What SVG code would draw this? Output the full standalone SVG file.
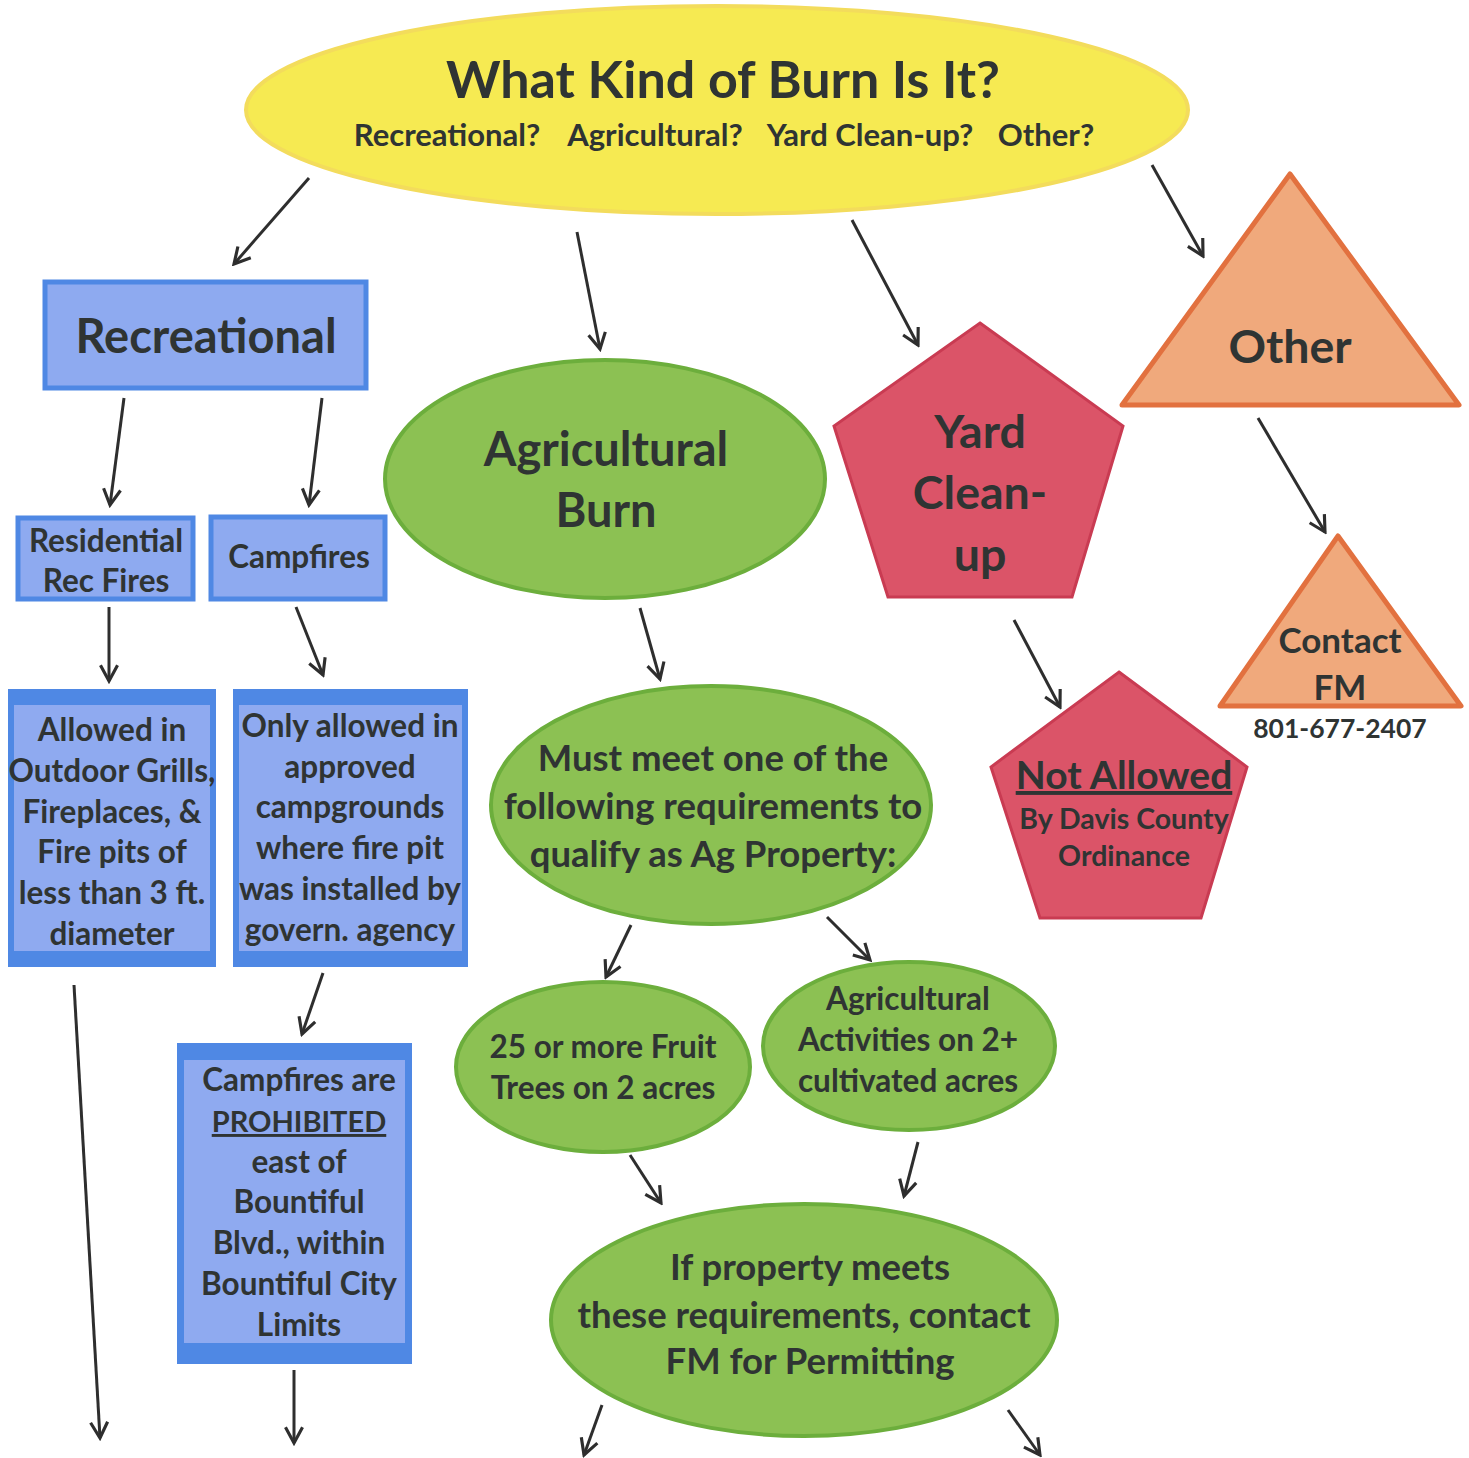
<svg xmlns="http://www.w3.org/2000/svg" width="1469" height="1458" viewBox="0 0 1469 1458">
<defs>
<marker id="ah" viewBox="0 0 16 16" refX="14" refY="8" markerWidth="21" markerHeight="21" markerUnits="userSpaceOnUse" orient="auto">
<path d="M2,1.5 L14,8 L2,14.5" fill="none" stroke="#2e2e2e" stroke-width="2.4" stroke-linejoin="miter"/>
</marker>
</defs>
<style>
text{font-family:Lato,"Open Sans","Liberation Sans",sans-serif;font-weight:bold;fill:#2f3433;text-anchor:middle}
.blue{fill:#8eaaf0;stroke:#4f88e4;stroke-width:5}
.bo{fill:#4f88e4}
.bi{fill:#8faaf0}
.green{fill:#8cc153;stroke:#6cae3c;stroke-width:4}
.red{fill:#db5468;stroke:#c93b52;stroke-width:3}
.peach{fill:#f0a97c;stroke:#e2713f;stroke-width:5;stroke-linejoin:round}
.yellow{fill:#f6ea52;stroke:#f3dc5c;stroke-width:4}
.c line{stroke:#2e2e2e;stroke-width:3;marker-end:url(#ah)}
.f44{font-size:46.5px}
.f29{font-size:31.5px}
.f33{font-size:36.5px}
.sub{font-size:31px}
</style>
<rect width="1469" height="1458" fill="#ffffff"/>

<g id="start">
<ellipse class="yellow" cx="717" cy="110" rx="471" ry="104"/>
<text x="723" y="98" style="font-size:52px">What Kind of Burn Is It?</text>
<text class="sub" x="447" y="146">Recreational?</text>
<text class="sub" x="655" y="146">Agricultural?</text>
<text class="sub" x="870" y="146">Yard Clean-up?</text>
<text class="sub" x="1046" y="146">Other?</text>
</g>

<g id="recreational">
<rect class="blue" x="45" y="282" width="321" height="106"/>
<text x="206" y="353" style="font-size:47px">Recreational</text>
</g>

<g id="residential">
<rect class="blue" x="18" y="518" width="175" height="81"/>
<text class="f29" x="106" y="552">Residential</text>
<text class="f29" x="106" y="592">Rec Fires</text>
</g>

<g id="campfires">
<rect class="blue" x="211" y="517" width="174" height="82"/>
<text class="f29" x="299" y="568">Campfires</text>
</g>

<g id="allowed">
<rect class="bo" x="8" y="689" width="208" height="278"/>
<rect class="bi" x="14" y="705" width="196" height="246"/>
<text class="f29" x="112" y="741">Allowed in</text>
<text class="f29" x="112" y="782">Outdoor Grills,</text>
<text class="f29" x="112" y="823">Fireplaces, &amp;</text>
<text class="f29" x="112" y="863">Fire pits of</text>
<text class="f29" x="112" y="904">less than 3 ft.</text>
<text class="f29" x="112" y="945">diameter</text>
</g>

<g id="only">
<rect class="bo" x="233" y="689" width="235" height="278"/>
<rect class="bi" x="239" y="705" width="223" height="246"/>
<text class="f29" x="350" y="737">Only allowed in</text>
<text class="f29" x="350" y="778">approved</text>
<text class="f29" x="350" y="818">campgrounds</text>
<text class="f29" x="350" y="859">where fire pit</text>
<text class="f29" x="350" y="900">was installed by</text>
<text class="f29" x="350" y="941">govern. agency</text>
</g>

<g id="prohibited">
<rect class="bo" x="177" y="1043" width="235" height="321"/>
<rect class="bi" x="184" y="1060" width="221" height="283"/>
<text class="f29" x="299" y="1091">Campfires are</text>
<text x="299" y="1132" style="font-size:29px" text-decoration="underline">PROHIBITED</text>
<text class="f29" x="299" y="1173">east of</text>
<text class="f29" x="299" y="1213">Bountiful</text>
<text class="f29" x="299" y="1254">Blvd., within</text>
<text class="f29" x="299" y="1295">Bountiful City</text>
<text class="f29" x="299" y="1336">Limits</text>
</g>

<g id="agburn">
<ellipse class="green" cx="605" cy="479" rx="220" ry="119"/>
<text x="606" y="466" style="font-size:47px">Agricultural</text>
<text x="606" y="527" style="font-size:47px">Burn</text>
</g>

<g id="mustmeet">
<ellipse class="green" cx="711" cy="805" rx="220" ry="119"/>
<text class="f33" x="713" y="771">Must meet one of the</text>
<text class="f33" x="713" y="819">following requirements to</text>
<text class="f33" x="713" y="867">qualify as Ag Property:</text>
</g>

<g id="fruit">
<ellipse class="green" cx="603" cy="1067" rx="147" ry="85"/>
<text class="f29" x="603" y="1058">25 or more Fruit</text>
<text class="f29" x="603" y="1099">Trees on 2 acres</text>
</g>

<g id="activities">
<ellipse class="green" cx="909" cy="1046" rx="146" ry="84"/>
<text class="f29" x="908" y="1010">Agricultural</text>
<text class="f29" x="908" y="1051">Activities on 2+</text>
<text class="f29" x="908" y="1092">cultivated acres</text>
</g>

<g id="permitting">
<ellipse class="green" cx="804" cy="1320" rx="253" ry="116"/>
<text class="f33" x="810" y="1280">If property meets</text>
<text class="f33" x="804" y="1328">these requirements, contact</text>
<text class="f33" x="810" y="1374">FM for Permitting</text>
</g>

<g id="yard">
<polygon class="red" points="980,323 1123,426 1072,597 888,597 834,426"/>
<text class="f44" x="980" y="448">Yard</text>
<text class="f44" x="980" y="509">Clean-</text>
<text class="f44" x="980" y="571">up</text>
</g>

<g id="notallowed">
<polygon class="red" points="1119,672 1247,767 1201,918 1040,918 991,767"/>
<text x="1124" y="789" style="font-size:39px" text-decoration="underline">Not Allowed</text>
<text x="1124" y="829" style="font-size:28.5px">By Davis County</text>
<text x="1124" y="866" style="font-size:28.5px">Ordinance</text>
</g>

<g id="other">
<polygon class="peach" points="1290,174 1459,405 1122,405"/>
<text class="f44" x="1290" y="363">Other</text>
</g>

<g id="contact">
<polygon class="peach" points="1338,536 1461,706 1220,706"/>
<text x="1340" y="653" style="font-size:35px">Contact</text>
<text x="1340" y="700" style="font-size:35px">FM</text>
<text x="1340" y="738" style="font-size:26.5px">801-677-2407</text>
</g>

<g id="connectors" class="c">
<line x1="309" y1="178" x2="234" y2="264"/>
<line x1="577" y1="232" x2="600" y2="349"/>
<line x1="852" y1="220" x2="918" y2="345"/>
<line x1="1152" y1="165" x2="1203" y2="256"/>
<line x1="124" y1="398" x2="110" y2="505"/>
<line x1="322" y1="398" x2="309" y2="505"/>
<line x1="109" y1="607" x2="109" y2="681"/>
<line x1="296" y1="607" x2="323" y2="675"/>
<line x1="323" y1="973" x2="302" y2="1034"/>
<line x1="74" y1="985" x2="100" y2="1438"/>
<line x1="294" y1="1370" x2="294" y2="1443"/>
<line x1="640" y1="608" x2="660" y2="679"/>
<line x1="631" y1="925" x2="606" y2="977"/>
<line x1="827" y1="917" x2="870" y2="960"/>
<line x1="630" y1="1155" x2="661" y2="1203"/>
<line x1="918" y1="1142" x2="904" y2="1196"/>
<line x1="602" y1="1405" x2="584" y2="1455"/>
<line x1="1008" y1="1410" x2="1040" y2="1455"/>
<line x1="1014" y1="620" x2="1060" y2="707"/>
<line x1="1258" y1="418" x2="1325" y2="532"/>
</g>
</svg>
